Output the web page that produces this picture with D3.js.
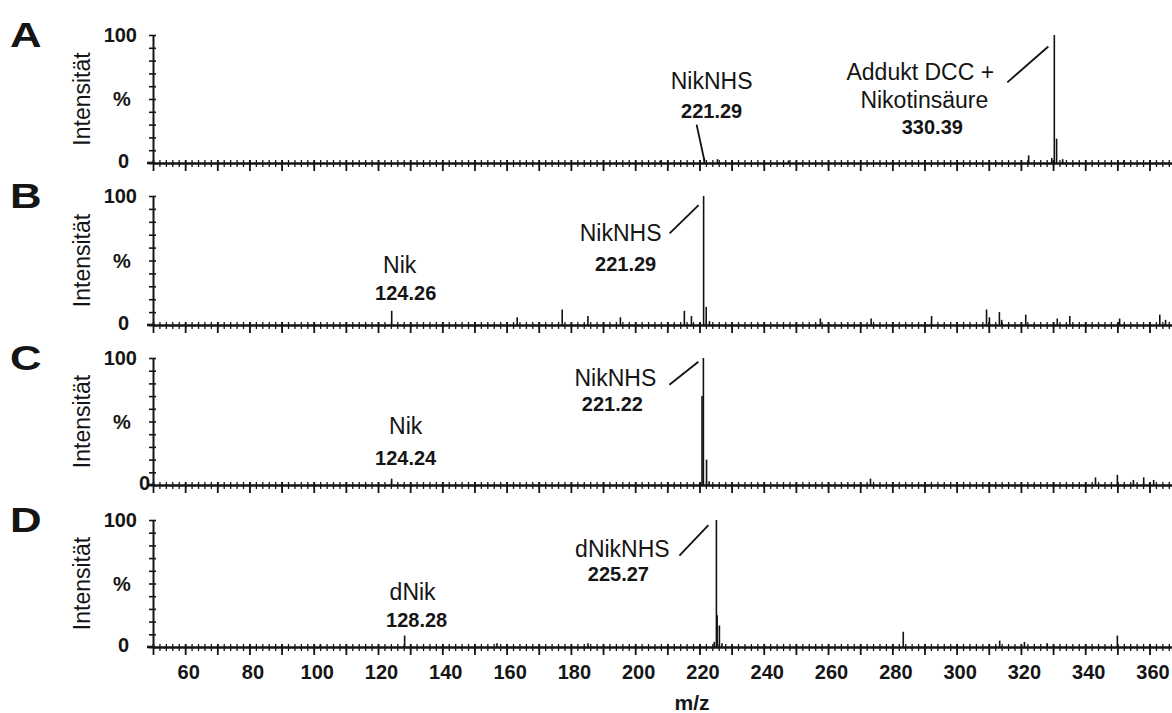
<!DOCTYPE html>
<html>
<head>
<meta charset="utf-8">
<script src="https://cdn.jsdelivr.net/npm/d3@7"></script>
<style>
body { margin: 0; background: #fff; }
text { font-family: "Liberation Sans", Arial, Helvetica, sans-serif; fill: #151515; }
.tick line, .domain { stroke: #151515; }
</style>
</head>
<body>
<div id="chart"></div>
<script>
/*
Mass spectra A-D, peaks as [m/z, intensity %]
 */
var panelNames = ["A", "B", "C", "D"];

var peaksA = [[207.8, 2], [221.5, 4], [225.6, 3], [247.7, 2], [322.4, 6], [329.6, 4],
    [330.39, 100], [331.1, 19], [333, 3], [352, 2]];
var peaksB = [[124.26, 11], [163.3, 6], [177.3, 12], [185.3, 7], [195.4, 6], [215.3, 11],
    [217.5, 7], [221.29, 100], [222.1, 14], [223.1, 3], [257.6, 5], [273.4, 5], [292.2, 7],
    [309.3, 12], [310.2, 6], [313.3, 10], [314, 4], [321.5, 8], [331.3, 5], [335.2, 7],
    [350.7, 5], [363.2, 8], [365, 4]];
var peaksC = [[124.24, 5], [220.8, 70], [221.22, 100], [222.2, 20], [223, 3], [273.2, 5],
    [343.2, 6], [350, 8], [355, 4], [358.2, 6], [361.3, 4]];
var peaksD = [[102, 2], [128.28, 9], [157, 3], [185.3, 3], [224.6, 4], [225.27, 100],
    [225.5, 25], [226.2, 17], [227, 3], [283.4, 12], [313.4, 5], [321.1, 4], [328.2, 3], [350, 9]];

var allPeaks = [peaksA, peaksB, peaksC, peaksD];

var yTickValues = [0, 10, 20, 30, 40, 50, 60, 70, 80, 90, 100];
var xLabelValues = [60, 80, 100, 120, 140, 160, 180, 200, 220, 240, 260, 280, 300, 320, 340, 360];

// annotations: peak m/z, text lines [text, bold, dx, y%], leader line
var notes = [
    [
        { mz: 221.29, lines: [["NikNHS", false, 8, 58], ["221.29", true, 8, 35]], lead: [-7, 30, 1, 1] },
        { mz: 330.39, lines: [["Addukt DCC +", false, -134, 65], ["Nikotinsäure", false, -130, 43], ["330.39", true, -122, 23]], lead: [-47, 63, -6, 91] }
    ],
    [
        { mz: 124.26, lines: [["Nik", false, 8, 40], ["124.26", true, 14, 19]] },
        { mz: 221.29, lines: [["NikNHS", false, -83, 65], ["221.29", true, -78, 42]], lead: [-34, 71, -5, 93] }
    ],
    [
        { mz: 124.24, lines: [["Nik", false, 14, 40], ["124.24", true, 14, 16]] },
        { mz: 221.22, lines: [["NikNHS", false, -88, 78], ["221.22", true, -91, 58]], lead: [-34, 79, -5, 97] }
    ],
    [
        { mz: 128.28, lines: [["dNik", false, 8, 37], ["128.28", true, 12, 16]] },
        { mz: 225.27, lines: [["dNikNHS", false, -94, 71], ["225.27", true, -98, 52]], lead: [-37, 72, -8, 96] }
    ]
];

var width = 1172, height = 713;
var tops = [35, 196, 358, 520];
var bases = [163, 325, 485, 647];
var zeroLabelX = [129, 129, 150, 129];

var svg = d3.select("#chart")
    .append("svg")
    .attr("width", width)
    .attr("height", height);

var x = d3.scaleLinear().domain([50, 367]).range([153, 1172]);

panelNames.forEach(function(name, i) {
    var y = d3.scaleLinear().domain([0, 100]).range([bases[i], tops[i]]);
    var g = svg.append("g");

    // panel letter
    g.append("text")
        .attr("transform", "translate(10," + (tops[i] + 12) + ") scale(1.25,1)")
        .style("font-size", "35px")
        .style("font-weight", "bold")
        .text(name);

    // y axis
    var yAxis = g.append("g")
        .attr("transform", "translate(153,0)")
        .call(d3.axisLeft(y).tickValues(yTickValues).tickSize(4).tickSizeOuter(0).tickFormat(""));
    yAxis.selectAll(".tick line").attr("x1", 3).style("stroke-width", 1.6);
    yAxis.select(".domain").style("stroke-width", 2);

    g.append("text").attr("x", 137).attr("y", y(100) + 7)
        .attr("text-anchor", "end").style("font-size", "20px").style("font-weight", "bold").text("100");
    g.append("text").attr("x", 122).attr("y", y(50) + 7)
        .attr("text-anchor", "middle").style("font-size", "20px").style("font-weight", "bold").text("%");
    g.append("text").attr("x", zeroLabelX[i]).attr("y", y(0) + 5)
        .attr("text-anchor", "end").style("font-size", "20px").style("font-weight", "bold").text("0");

    g.append("text")
        .attr("transform", "translate(82," + y(50) + ") rotate(-90)")
        .attr("text-anchor", "middle")
        .attr("dominant-baseline", "central")
        .style("font-size", "23px")
        .text("Intensität");

    // x axis: minor ticks every 2, major every 10
    var minor = g.append("g")
        .attr("transform", "translate(0," + bases[i] + ")")
        .call(d3.axisBottom(x).tickValues(d3.range(52, 367, 2)).tickSize(4).tickSizeOuter(0).tickFormat(""));
    minor.selectAll(".tick line").attr("y1", -3).style("stroke-width", 1.3);
    minor.select(".domain").style("stroke-width", 2.6);

    var major = g.append("g")
        .attr("transform", "translate(0," + bases[i] + ")")
        .call(d3.axisBottom(x).tickValues(d3.range(50, 367, 10)).tickSize(8).tickSizeOuter(0)
            .tickPadding(10)
            .tickFormat(function(d) { return (i === 3 && xLabelValues.indexOf(d) >= 0) ? d : ""; }));
    major.selectAll(".tick line").attr("y1", -3).style("stroke-width", 1.8);
    major.select(".domain").remove();
    major.selectAll(".tick text")
        .attr("dx", 3)
        .style("font-family", "Liberation Sans, Arial, sans-serif")
        .style("font-size", "20px")
        .style("font-weight", "bold")
        .style("fill", "#151515");

    g.append("line")
        .attr("x1", 147).attr("x2", 153)
        .attr("y1", bases[i]).attr("y2", bases[i])
        .style("stroke", "#151515").style("stroke-width", 2.6);

    // peaks
    g.selectAll(".peak")
        .data(allPeaks[i])
        .enter()
        .append("line")
        .attr("class", "peak")
        .attr("x1", function(d) { return x(d[0]); })
        .attr("x2", function(d) { return x(d[0]); })
        .attr("y1", y(0))
        .attr("y2", function(d) { return y(d[1]); })
        .style("stroke", "#111")
        .style("stroke-width", 1.6);

    // annotations
    notes[i].forEach(function(n) {
        var px = x(n.mz);
        n.lines.forEach(function(l) {
            g.append("text")
                .attr("x", px + l[2])
                .attr("y", y(l[3]))
                .attr("text-anchor", "middle")
                .style("font-size", l[1] ? "20px" : "23px")
                .style("font-weight", l[1] ? "bold" : "normal")
                .text(l[0]);
        });
        if (n.lead) {
            g.append("line")
                .attr("x1", px + n.lead[0]).attr("y1", y(n.lead[1]))
                .attr("x2", px + n.lead[2]).attr("y2", y(n.lead[3]))
                .style("stroke", "#111")
                .style("stroke-width", 1.8);
        }
    });
});

svg.append("text")
    .attr("x", 692)
    .attr("y", 710)
    .attr("text-anchor", "middle")
    .style("font-size", "21px")
    .style("font-weight", "bold")
    .text("m/z");
</script>
</body>
</html>
